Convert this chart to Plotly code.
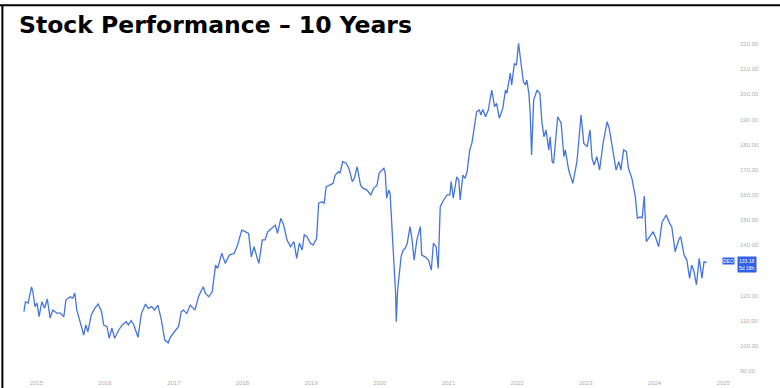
import pandas as pd
import plotly.graph_objects as go

# Decimal-year positions and closing prices
year_pos = [
    2014.82, 2014.84, 2014.88, 2014.93, 2014.95, 2014.98, 2015.01, 2015.04, 2015.08, 2015.12,
    2015.16, 2015.20, 2015.24, 2015.30, 2015.35, 2015.40, 2015.43, 2015.49, 2015.53, 2015.56,
    2015.59, 2015.64, 2015.69, 2015.72, 2015.75, 2015.80, 2015.85, 2015.90, 2015.95, 2015.98,
    2016.03, 2016.06, 2016.10, 2016.14, 2016.20, 2016.25, 2016.31, 2016.34, 2016.38, 2016.42,
    2016.48, 2016.53, 2016.59, 2016.63, 2016.68, 2016.72, 2016.77, 2016.82, 2016.87, 2016.92,
    2016.95, 2017.01, 2017.07, 2017.11, 2017.14, 2017.19, 2017.24, 2017.31, 2017.36, 2017.43,
    2017.46, 2017.51, 2017.56, 2017.61, 2017.64, 2017.70, 2017.75, 2017.81, 2017.88, 2017.93,
    2017.99, 2018.04, 2018.09, 2018.13, 2018.17, 2018.21, 2018.24, 2018.29, 2018.33, 2018.37,
    2018.43, 2018.48, 2018.51, 2018.56, 2018.60, 2018.65, 2018.70, 2018.75, 2018.79, 2018.83,
    2018.87, 2018.90, 2018.94, 2018.99, 2019.03, 2019.08, 2019.11, 2019.16, 2019.19, 2019.22,
    2019.27, 2019.32, 2019.35, 2019.40, 2019.42, 2019.46, 2019.51, 2019.55, 2019.60, 2019.63,
    2019.67, 2019.72, 2019.76, 2019.81, 2019.87, 2019.91, 2019.96, 2019.99, 2020.06, 2020.08,
    2020.10, 2020.13, 2020.15, 2020.19, 2020.23, 2020.24, 2020.26, 2020.31, 2020.34, 2020.37,
    2020.40, 2020.44, 2020.47, 2020.50, 2020.54, 2020.59, 2020.61, 2020.66, 2020.71, 2020.75,
    2020.78, 2020.82, 2020.85, 2020.88, 2020.93, 2020.98, 2021.02, 2021.04, 2021.07, 2021.12,
    2021.15, 2021.17, 2021.21, 2021.24, 2021.27, 2021.31, 2021.34, 2021.37, 2021.41, 2021.45,
    2021.47, 2021.50, 2021.54, 2021.58, 2021.63, 2021.67, 2021.70, 2021.74, 2021.79, 2021.83,
    2021.85, 2021.90, 2021.92, 2021.96, 2021.99, 2022.02, 2022.06, 2022.09, 2022.12, 2022.14,
    2022.17, 2022.19, 2022.21, 2022.24, 2022.29, 2022.33, 2022.36, 2022.39, 2022.42, 2022.46,
    2022.48, 2022.51, 2022.53, 2022.59, 2022.64, 2022.68, 2022.70, 2022.75, 2022.81, 2022.87,
    2022.93, 2022.97, 2023.02, 2023.06, 2023.09, 2023.12, 2023.16, 2023.20, 2023.25, 2023.31,
    2023.34, 2023.39, 2023.44, 2023.48, 2023.51, 2023.55, 2023.59, 2023.62, 2023.67, 2023.72,
    2023.75, 2023.79, 2023.82, 2023.85, 2023.88, 2023.93, 2023.98, 2024.02, 2024.06, 2024.11,
    2024.17, 2024.22, 2024.25, 2024.30, 2024.35, 2024.38, 2024.43, 2024.47, 2024.51, 2024.54,
    2024.57, 2024.61, 2024.65, 2024.69, 2024.72, 2024.76,
]

prices = [
    113.6, 117.5, 117.0, 123.4, 121.5, 115.6, 117.0, 111.6, 117.5, 115.0,
    118.6, 111.1, 114.2, 113.0, 113.0, 111.5, 118.2, 119.5, 119.0, 121.0,
    114.2, 109.6, 104.3, 108.3, 105.6, 112.3, 114.9, 116.6, 113.6, 108.3,
    107.6, 103.0, 107.0, 103.0, 106.3, 108.3, 109.6, 108.3, 110.0, 108.3,
    103.4, 112.9, 116.6, 114.9, 115.6, 114.2, 116.2, 110.3, 102.3, 101.2,
    103.4, 105.6, 107.6, 113.6, 114.2, 112.9, 116.2, 114.2, 119.5, 123.5,
    120.9, 119.5, 121.5, 132.1, 130.8, 136.8, 132.8, 136.1, 136.8, 140.1,
    146.0, 145.4, 144.7, 135.4, 139.4, 135.4, 132.8, 142.1, 142.1, 145.4,
    146.7, 148.0, 144.7, 150.7, 148.0, 142.1, 139.4, 141.4, 134.8, 140.8,
    138.1, 144.1, 143.4, 140.8, 140.1, 142.7, 156.7, 157.3, 156.7, 163.3,
    163.9, 164.6, 167.9, 169.2, 168.6, 173.2, 172.6, 170.6, 165.3, 166.6,
    171.2, 163.9, 162.6, 162.0, 160.0, 162.6, 163.9, 168.7, 170.6, 168.6,
    158.7, 162.0, 160.6, 142.7, 120.9, 109.6, 122.2, 135.4, 138.1, 138.8,
    140.8, 147.4, 142.1, 134.1, 142.1, 147.4, 136.1, 135.4, 134.1, 130.1,
    140.8, 139.4, 130.8, 155.3, 158.0, 160.0, 160.0, 165.3, 158.7, 167.2,
    165.9, 158.0, 167.9, 166.6, 169.1, 177.9, 180.5, 185.8, 193.1, 193.8,
    191.8, 194.0, 191.1, 193.8, 201.7, 195.1, 196.4, 190.5, 194.4, 201.7,
    200.4, 208.4, 203.7, 212.3, 211.6, 220.3, 211.6, 205.0, 203.7, 205.7,
    200.4, 192.4, 175.9, 197.7, 201.7, 200.4, 189.1, 183.1, 185.8, 177.9,
    183.1, 173.2, 172.6, 191.1, 188.5, 175.2, 177.9, 169.9, 164.6, 173.2,
    191.8, 180.5, 179.2, 185.8, 174.6, 171.9, 175.2, 169.9, 180.5, 189.1,
    186.5, 178.5, 169.9, 173.2, 169.9, 177.9, 177.2, 170.6, 166.6, 159.3,
    150.7, 151.3, 150.7, 159.6, 141.4, 143.4, 145.4, 142.7, 139.4, 149.3,
    152.0, 148.7, 147.4, 137.4, 142.1, 143.4, 136.1, 134.1, 126.8, 132.1,
    130.1, 124.2, 134.8, 126.8, 133.4, 133.18,
]

y_ticks = [90, 100, 110, 120, 140, 150, 160, 170, 180, 190, 200, 210, 220]
y_tick_text = [f"{v:.2f}" for v in y_ticks]
title_text = "Stock Performance – 10 Years"
ticker = "DEO"
last_price_text = "133.18<br>5d 18h"

base = pd.Timestamp("2015-01-01")
dates = [base + pd.to_timedelta((y - 2015) * 365.25, unit="D") for y in year_pos]

fig = go.Figure()
fig.add_trace(go.Scatter(
    x=dates, y=prices, mode="lines",
    line=dict(color="#4575dc", width=1.3),
    hoverinfo="skip", showlegend=False,
))

fig.update_layout(
    width=780, height=388,
    margin=dict(l=10, r=45, t=40, b=16),
    paper_bgcolor="white", plot_bgcolor="white",
    showlegend=False,
    xaxis=dict(
        type="date",
        range=["2014-08-14", "2025-03-04"],
        tickformat="%Y", dtick="M12", tick0="2015-01-01",
        showgrid=False, zeroline=False, showline=False, ticks="",
        ticklabelstandoff=6, automargin=False,
        tickfont=dict(family="Liberation Sans", size=6, color="#b0b0b0"),
    ),
    yaxis=dict(
        side="right",
        range=[89.6, 221.6],
        tickvals=y_ticks, ticktext=y_tick_text,
        showgrid=False, zeroline=False, showline=False, ticks="",
        ticklabelstandoff=4, automargin=False,
        tickfont=dict(family="Liberation Sans", size=6, color="#b0b0b0"),
    ),
)

# Title
fig.add_annotation(
    xref="paper", yref="paper", x=0.009, y=1.045, xanchor="left", yanchor="middle",
    text=f"<b>{title_text}</b>", showarrow=False,
    font=dict(family="DejaVu Sans", size=23.5, color="black"),
)

# Price tags on the right axis
fig.add_annotation(
    xref="paper", yref="y", x=1.0, y=prices[-1] + 0.7, xanchor="right", yanchor="middle",
    text=ticker, showarrow=False, bgcolor="#2f62e6", borderpad=0,
    font=dict(family="Liberation Sans", size=5, color="white"),
)
fig.add_annotation(
    xref="paper", yref="y", x=1.003, y=prices[-1] - 0.8, xanchor="left", yanchor="middle",
    text=last_price_text, showarrow=False, bgcolor="#2f62e6", borderpad=1, align="right",
    font=dict(family="Liberation Sans", size=5, color="white"),
)

# Frame lines (top and left) as in the reference
fig.add_shape(type="line", xref="paper", yref="paper", x0=-0.02, x1=1.1, y0=1.105, y1=1.105,
              line=dict(color="black", width=2))
fig.add_shape(type="line", xref="paper", yref="paper", x0=-0.0105, x1=-0.0105, y0=1.105, y1=-0.06,
              line=dict(color="black", width=2))

fig.write_html("out.html")
